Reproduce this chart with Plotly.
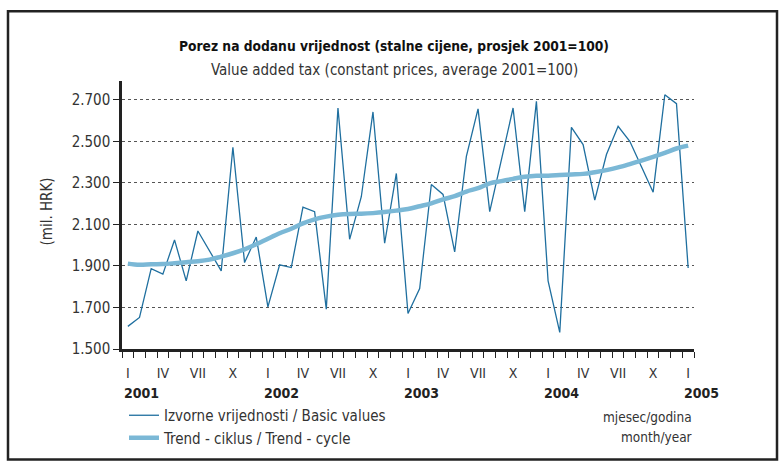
import plotly.graph_objects as go

months = list(range(49))  # Jan 2001 .. Jan 2005
basic = [1609, 1652, 1887, 1860, 2025, 1828, 2068, 1972, 1876, 2471, 1916, 2039,
         1703, 1905, 1892, 2183, 2161, 1692, 2660, 2028, 2233, 2641, 2009, 2345,
         1671, 1791, 2292, 2244, 1967, 2427, 2656, 2161, 2410, 2660, 2161, 2692,
         1828, 1580, 2567, 2484, 2217, 2436, 2572, 2500, 2377, 2255, 2724, 2681, 1890]
trend = [1911, 1905, 1908, 1909, 1913, 1918, 1922, 1930, 1945, 1961, 1980, 2004,
         2031, 2057, 2079, 2105, 2124, 2137, 2146, 2150, 2151, 2154, 2159, 2166,
         2174, 2187, 2201, 2220, 2236, 2258, 2274, 2297, 2308, 2319, 2329, 2334,
         2334, 2337, 2340, 2343, 2351, 2361, 2374, 2390, 2407, 2425, 2444, 2465, 2479]
roman_pos = list(range(0, 49, 3))
roman_text = ["I", "IV", "VII", "X"] * 4 + ["I"]
year_pos = [0, 12, 24, 36, 48]
year_text = ["2001", "2002", "2003", "2004", "2005"]
y_ticks = [1500, 1700, 1900, 2100, 2300, 2500, 2700]
y_ticktext = ["1.500", "1.700", "1.900", "2.100", "2.300", "2.500", "2.700"]

FONT = "DejaVu Sans Condensed, Liberation Sans Narrow, DejaVu Sans, sans-serif"
TXT = "#333333"

L, R, T, B = 122, 86, 81, 115
W, H = 780, 465
pw, ph = W - L - R, H - T - B


def px(x):
    return (x - L) / pw


def py(y):
    return (H - B - y) / ph


fig = go.Figure()
fig.add_trace(go.Scatter(x=months, y=basic, mode="lines",
                         name="Izvorne vrijednosti / Basic values",
                         line=dict(color="#1f6f9f", width=1.3)))
fig.add_trace(go.Scatter(x=months, y=trend, mode="lines",
                         name="Trend - ciklus / Trend - cycle",
                         line=dict(color="#7bb8d6", width=4.5, shape="spline")))
# invisible trace on second axis for roman month labels
fig.add_trace(go.Scatter(x=[months[0]], y=[basic[0]], xaxis="x2", mode="none",
                         showlegend=False, hoverinfo="skip"))

fig.update_layout(
    width=W, height=H,
    margin=dict(l=L, r=R, t=T, b=B),
    paper_bgcolor="white", plot_bgcolor="white",
    font=dict(family=FONT, size=14, color=TXT),
    showlegend=True,
    legend=dict(x=px(124), y=py(399), xanchor="left", yanchor="top",
                orientation="v", font=dict(size=15, color=TXT),
                bgcolor="rgba(0,0,0,0)", tracegroupgap=0),
    xaxis=dict(range=[-0.5, 48.5], tickvals=[m - 0.5 for m in months] + [48.5],
               showticklabels=False, ticks="outside", ticklen=6, tickwidth=1.3,
               tickcolor="#222", showline=True, linecolor="#222", linewidth=2.5,
               showgrid=False, zeroline=False, fixedrange=True),
    xaxis2=dict(range=[-0.5, 48.5], overlaying="x", anchor="y", side="bottom",
                tickvals=roman_pos, ticktext=roman_text, ticks="",
                showline=False, showgrid=False, zeroline=False,
                tickfont=dict(size=14, color=TXT), ticklabelstandoff=14),
    yaxis=dict(range=[1500, 2790], tickvals=y_ticks, ticktext=y_ticktext,
               ticks="outside", ticklen=6, tickwidth=1.3, tickcolor="#222",
               showline=True, linecolor="#222", linewidth=2.5,
               showgrid=True, gridcolor="#555", griddash="dot", gridwidth=1,
               zeroline=False, tickfont=dict(size=15, color=TXT)),
)

for pos, txt in zip(year_pos, year_text):
    fig.add_annotation(x=pos, y=py(394), xref="x", yref="paper", text=f"<b>{txt}</b>",
                       showarrow=False, xanchor="left", yanchor="middle", xshift=-6,
                       font=dict(size=14, color="#222"))

fig.add_annotation(x=px(394), y=py(46), xref="paper", yref="paper",
                   text="<b>Porez na dodanu vrijednost (stalne cijene, prosjek 2001=100)</b>",
                   showarrow=False, xanchor="center", yanchor="middle",
                   font=dict(size=13.7, color="#111"))
fig.add_annotation(x=px(394), y=py(70), xref="paper", yref="paper",
                   text="Value added tax (constant prices, average 2001=100)",
                   showarrow=False, xanchor="center", yanchor="middle",
                   font=dict(size=15, color=TXT))
fig.add_annotation(x=px(47), y=py(212), xref="paper", yref="paper",
                   text="(mil. HRK)", textangle=-90, showarrow=False,
                   xanchor="center", yanchor="middle", font=dict(size=15, color=TXT))
fig.add_annotation(x=px(694), y=py(418), xref="paper", yref="paper",
                   text="mjesec/godina", showarrow=False, xanchor="right",
                   yanchor="middle", font=dict(size=13.5, color=TXT))
fig.add_annotation(x=px(694), y=py(438), xref="paper", yref="paper",
                   text="month/year", showarrow=False, xanchor="right",
                   yanchor="middle", font=dict(size=13.5, color=TXT))

fig.add_shape(type="rect", xref="paper", yref="paper",
              x0=px(8), x1=px(777), y0=py(461), y1=py(11),
              line=dict(color="#222", width=2.5), fillcolor="rgba(0,0,0,0)")

fig.write_html("out.html", post_script="document.body.style.margin='0px';",
               config={"displayModeBar": False})
